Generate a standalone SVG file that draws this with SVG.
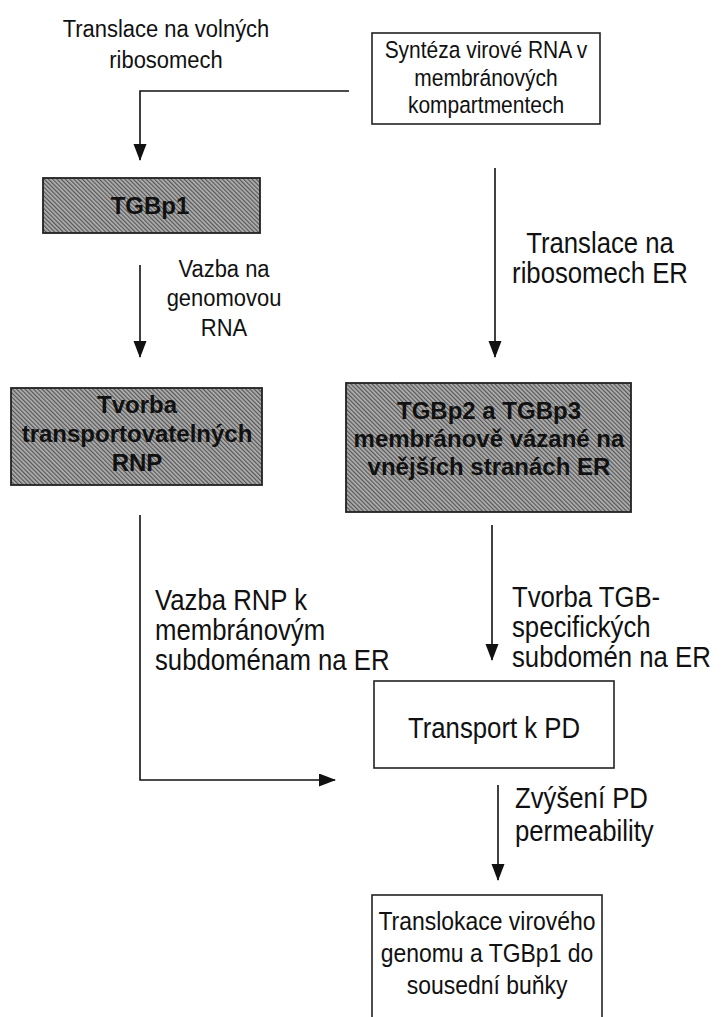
<svg xmlns="http://www.w3.org/2000/svg" width="723" height="1017" viewBox="0 0 723 1017">
<style>
text{font-family:"Liberation Sans",Arial,sans-serif;fill:#111}
.c{text-anchor:middle;transform-box:fill-box;transform-origin:center;transform:scaleX(.9)}
.l{transform-box:fill-box;transform-origin:left center;transform:scaleX(.9)}
.g{text-anchor:middle;font-weight:bold;font-size:24px}
.s1{font-size:24.4px}
.s2{font-size:23.3px}
.s3{font-size:28.6px}
.s4{font-size:25.5px}
.box{fill:#fff;stroke:#222;stroke-width:1.6}
.gbox{fill:url(#hatch);stroke:#222;stroke-width:1.8}
.ln{fill:none;stroke:#111;stroke-width:1.6}
</style>
<defs>
<pattern id="hatch" width="3" height="3" patternUnits="userSpaceOnUse" patternTransform="rotate(-45)">
<rect width="3" height="3" fill="#b0b0b0"/>
<rect width="1.2" height="3" fill="#555"/>
</pattern>
<marker id="ah" markerWidth="17" markerHeight="14" refX="16" refY="6.5" orient="auto" markerUnits="userSpaceOnUse">
<path d="M0,0 L17,6.5 L0,13 Z" fill="#111"/>
</marker>
</defs>
<g id="connectors">
<path class="ln" d="M349,91 H140 V160" marker-end="url(#ah)"/>
<path class="ln" d="M495,168 V357" marker-end="url(#ah)"/>
<path class="ln" d="M140,265 V357" marker-end="url(#ah)"/>
<path class="ln" d="M140,515 V780 H335" marker-end="url(#ah)"/>
<path class="ln" d="M492,525 V660" marker-end="url(#ah)"/>
<path class="ln" d="M498,785 V880" marker-end="url(#ah)"/>
<text class="c s1" x="166" y="37">Translace na volných</text>
<text class="c s1" x="166" y="68">ribosomech</text>
<text class="c s3" x="600" y="253">Translace na</text>
<text class="c s3" x="600" y="283">ribosomech ER</text>
<text class="c s1" x="224" y="277">Vazba na</text>
<text class="c s1" x="224" y="306">genomovou</text>
<text class="c s1" x="224" y="336">RNA</text>
<text class="l s3" x="155" y="610">Vazba RNP k</text>
<text class="l s3" x="155" y="640">membránovým</text>
<text class="l s3" x="155" y="670">subdoménam na ER</text>
<text class="l s3" x="512" y="607">Tvorba TGB-</text>
<text class="l s3" x="512" y="637">specifických</text>
<text class="l s3" x="512" y="667">subdomén na ER</text>
<text class="l s3" x="515" y="808">Zvýšení PD</text>
<text class="l s3" x="515" y="841">permeability</text>
</g>
<g id="n_synteza">
<rect class="box" x="372" y="33" width="228" height="91"/>
<text class="c s2" x="486" y="58">Syntéza virové RNA v</text>
<text class="c s2" x="486" y="86">membránových</text>
<text class="c s2" x="486" y="113">kompartmentech</text>
</g>
<g id="n_tgbp1">
<rect class="gbox" x="43" y="178" width="217" height="55"/>
<text class="g" x="150" y="214">TGBp1</text>
</g>
<g id="n_rnp">
<rect class="gbox" x="11" y="388" width="251" height="97"/>
<text class="g" x="137" y="413">Tvorba</text>
<text class="g" x="137" y="442">transportovatelných</text>
<text class="g" x="137" y="471">RNP</text>
</g>
<g id="n_tgbp23">
<rect class="gbox" x="346" y="383" width="285" height="129"/>
<text class="g" x="489" y="419">TGBp2 a TGBp3</text>
<text class="g" x="489" y="447">membránově vázané na</text>
<text class="g" x="489" y="475">vnějších stranách ER</text>
</g>
<g id="n_transport">
<rect class="box" x="374" y="681" width="240" height="87"/>
<text class="c s3" x="494" y="738">Transport k PD</text>
</g>
<g id="n_translokace">
<rect class="box" x="372" y="895" width="230" height="130"/>
<text class="c s4" x="487" y="930">Translokace virového</text>
<text class="c s4" x="487" y="962">genomu a TGBp1 do</text>
<text class="c s4" x="487" y="994">sousední buňky</text>
</g>
</svg>
